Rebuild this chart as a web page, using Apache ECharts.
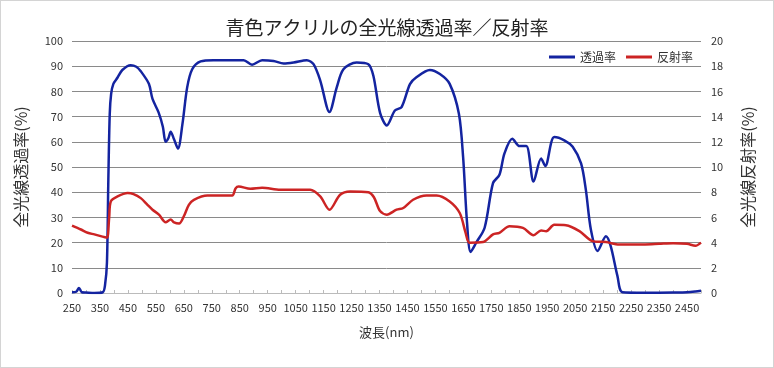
<!DOCTYPE html>
<html><head><meta charset="utf-8">
<script src="https://cdn.jsdelivr.net/npm/echarts@6/dist/echarts.min.js"></script>
<style>
html,body{margin:0;padding:0;background:#fff;}
#c{width:774px;height:368px;box-sizing:border-box;border:1px solid #d4d4d4;}
</style></head>
<body><div id="c"></div>
<script>
const titleText = '青色アクリルの全光線透過率／反射率';
const seriesNames = ['透過率', '反射率'];
const xTickLabels = [250,350,450,550,650,750,850,950,1050,1150,1250,1350,1450,1550,1650,1750,1850,1950,2050,2150,2250,2350,2450];
const leftTickLabels = [0,10,20,30,40,50,60,70,80,90,100];
const rightTickLabels = [0,2,4,6,8,10,12,14,16,18,20];

const wavelengthT = [250,265,275,285,300,330,360,368,375,380,385,390,398,413,430,460,480,496,525,538,560,575,585,595,603,615,629,645,662,680,710,756,864,894,930,971,1007,1043,1090,1114,1138,1171,1197,1221,1268,1310,1328,1352,1376,1405,1429,1459,1482,1530,1566,1601,1634,1649,1663,1676,1696,1726,1756,1779,1797,1825,1851,1875,1901,1928,1943,1975,2011,2041,2071,2088,2106,2130,2160,2177,2201,2219,2300,2400,2450,2480,2500];
const transmittance = [0.3,0.5,2.0,0.3,0.2,0.0,0.3,3,12,45,71,79,83,85.5,88.5,90.4,89.8,88,83,77,71.6,66,60,61.5,64,61,57.3,67,81.6,88.8,91.9,92.4,92.4,90.6,92.4,92.1,91.1,91.5,92.4,90.8,84.3,71.8,81.6,88.8,91.5,90.8,86.2,71.5,66.5,72.4,73.8,82.9,85.6,88.5,86.9,83,71.1,54,28,16.3,20,25.9,43.6,46.9,55.4,61.2,58.3,58.3,44.2,53.4,50.4,61.9,60.6,58,51.4,41,25.2,16.7,22.5,18.6,6.8,0.3,0.1,0.2,0.3,0.6,0.9];

const wavelengthR = [250,282,306,330,368,376,383,389,413,449,470,496,520,538,561,585,603,615,633,650,668,686,734,823,835,846,888,930,995,1102,1138,1171,1209,1245,1310,1330,1352,1376,1411,1435,1470,1518,1554,1601,1637,1658,1672,1720,1756,1779,1815,1863,1901,1928,1946,1975,2017,2065,2112,2160,2207,2300,2350,2400,2450,2480,2500];
const reflectance = [5.35,5.04,4.78,4.65,4.43,4.4,6.0,7.27,7.66,7.93,7.85,7.53,7.0,6.61,6.22,5.62,5.83,5.6,5.51,6.09,7.0,7.4,7.74,7.74,8.3,8.45,8.27,8.35,8.19,8.19,7.66,6.61,7.8,8.06,8.0,7.6,6.5,6.22,6.61,6.75,7.4,7.74,7.74,7.27,6.35,4.78,3.99,4.04,4.65,4.78,5.3,5.17,4.59,4.96,4.9,5.41,5.38,4.91,4.12,4.04,3.85,3.85,3.9,3.95,3.9,3.75,4.0];

const xTicks = [];
for (let v = 250; v <= 2500; v += 50) xTicks.push(v);

const font = "'Noto Sans CJK JP', 'Noto Sans', sans-serif";
const chart = echarts.init(document.getElementById('c'), null, {renderer: 'canvas'});
chart.setOption({
  animation: false,
  backgroundColor: '#fff',
  textStyle: {fontFamily: font},
  title: {text: titleText, left: 'center', top: 12,
    textStyle: {fontSize: 19, fontWeight: 'normal', color: '#222', fontFamily: font}},
  legend: {right: 75, top: 45, itemWidth: 26, itemHeight: 3, itemGap: 10, icon: 'rect',
    textStyle: {fontSize: 12, color: '#333'}, data: seriesNames},
  grid: {left: 71, right: 72, top: 40, bottom: 74},
  xAxis: {type: 'value', min: 250, max: 2500,
    name: '波長(nm)', nameLocation: 'middle', nameGap: 33,
    nameTextStyle: {fontSize: 13, color: '#333'},
    axisLine: {show: true, lineStyle: {color: '#bbb'}},
    axisTick: {show: true, inside: true, length: 3, customValues: xTicks, lineStyle: {color: '#bbb'}},
    axisLabel: {customValues: xTickLabels, fontSize: 11, color: '#333', margin: 9,
      formatter: v => String(v)},
    splitLine: {show: false}},
  yAxis: [
    {type: 'value', min: 0, max: 100, interval: 10,
      name: '全光線透過率(%)', nameLocation: 'middle', nameRotate: 90, nameGap: 43,
      nameTextStyle: {fontSize: 16, color: '#333'},
      axisLine: {show: false}, axisTick: {show: false},
      axisLabel: {fontSize: 11, color: '#333', margin: 9,
        formatter: v => leftTickLabels.includes(v) ? String(v) : ''},
      splitLine: {show: true, lineStyle: {color: '#8a8a8a', width: 1}}},
    {type: 'value', min: 0, max: 20, interval: 2, position: 'right',
      name: '全光線反射率(%)', nameLocation: 'middle', nameRotate: 90, nameGap: 39,
      nameTextStyle: {fontSize: 16, color: '#333'},
      axisLine: {show: false}, axisTick: {show: false},
      axisLabel: {fontSize: 11, color: '#333', margin: 10,
        formatter: v => rightTickLabels.includes(v) ? String(v) : ''},
      splitLine: {show: false}}
  ],
  series: [
    {name: seriesNames[0], type: 'line', yAxisIndex: 0, smooth: 0.3, showSymbol: false,
      color: '#1424a0', lineStyle: {width: 2.5, color: '#1424a0'},
      data: wavelengthT.map((x, i) => [x, transmittance[i]])},
    {name: seriesNames[1], type: 'line', yAxisIndex: 1, smooth: 0.3, showSymbol: false,
      color: '#cc2424', lineStyle: {width: 2.5, color: '#cc2424'},
      data: wavelengthR.map((x, i) => [x, reflectance[i]])}
  ]
});
</script></body></html>
